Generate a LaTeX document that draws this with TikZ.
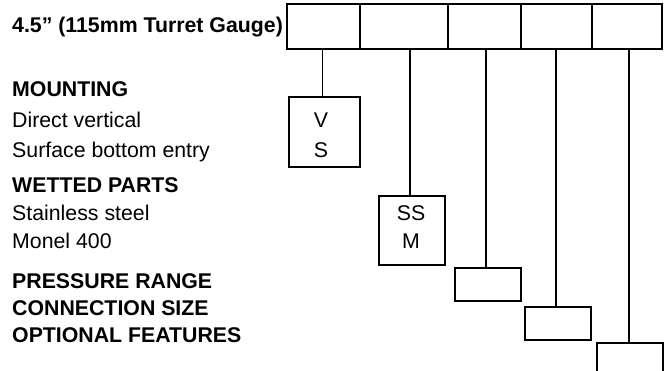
\documentclass[tikz,border=0pt]{standalone}
\usepackage{fontspec}
\setmainfont{Liberation Sans}
\usetikzlibrary{positioning}

\begin{document}
\begin{tikzpicture}[x=1pt, y=-1pt,
  celda/.style={draw, line width=1.5pt, minimum height=45pt, inner sep=0pt, outer sep=0pt},
  caja/.style={draw, line width=1.5pt, minimum width=66pt, inner sep=0pt, outer sep=0pt},
  rotulo/.style={anchor=base west, inner sep=0pt, font=\fontsize{21.3}{25}\selectfont},
  titulo/.style={rotulo, font=\fontsize{21.3}{25}\selectfont\bfseries},
  letra/.style={anchor=base, inner sep=0pt, font=\fontsize{21.3}{25}\selectfont},
  enlace/.style={line width=1.3pt}]
  \clip (0,0) rectangle (667,370);
  % casillas del codigo
  \node[celda, minimum width=73pt] (c1) at (323.5,26.5) {};
  \node[celda, minimum width=88pt, right=0pt of c1] (c2) {};
  \node[celda, minimum width=73pt, right=0pt of c2] (c3) {};
  \node[celda, minimum width=71pt, right=0pt of c3] (c4) {};
  \node[celda, minimum width=70pt, right=0pt of c4] (c5) {};
  % cajas de opciones
  \node[caja, minimum width=71pt, minimum height=70pt] (montaje) at (324.5,132) {};
  \node[caja, minimum height=69pt] (partes) at (412,230.5) {};
  \node[caja, minimum height=33pt] (presion) at (488,284.5) {};
  \node[caja, minimum height=33pt] (conexion) at (558,323.5) {};
  \node[caja, minimum height=33pt] (opcional) at (630,359.5) {};
  \draw[enlace] ([xshift=-2pt]montaje.north) -- ([xshift=-2pt]montaje.north |- c1.south);
  \draw[enlace] ([xshift=-2pt]partes.north) -- ([xshift=-2pt]partes.north |- c2.south);
  \draw[enlace] ([xshift=-2pt]presion.north) -- ([xshift=-2pt]presion.north |- c3.south);
  \draw[enlace] ([xshift=-2pt]conexion.north) -- ([xshift=-2pt]conexion.north |- c4.south);
  \draw[enlace] ([xshift=-1pt]opcional.north) -- ([xshift=-1pt]opcional.north |- c5.south);
  % textos
  \node[titulo] (tit) at (12,32) {4.5” (115mm Turret Gauge)};
  \node[titulo] (mont) at (12,96) {MOUNTING};
  \node[rotulo] (dv) at (12,127) {Direct vertical};
  \node[rotulo] (sb) at (12,157) {Surface bottom entry};
  \node[titulo] (wet) at (12,192) {WETTED PARTS};
  \node[rotulo] (ss) at (12,220) {Stainless steel};
  \node[rotulo] (mo) at (12,248) {Monel 400};
  \node[titulo] (pr) at (12,288) {PRESSURE RANGE};
  \node[titulo] (cs) at (12,315) {CONNECTION SIZE};
  \node[titulo] (of) at (12,342) {OPTIONAL FEATURES};
  \node[letra] (lv) at (321,127) {V};
  \node[letra] (ls) at (321,157) {S};
  \node[letra] (lss) at (411,220) {SS};
  \node[letra] (lm) at (411,248) {M};
\end{tikzpicture}
\end{document}
